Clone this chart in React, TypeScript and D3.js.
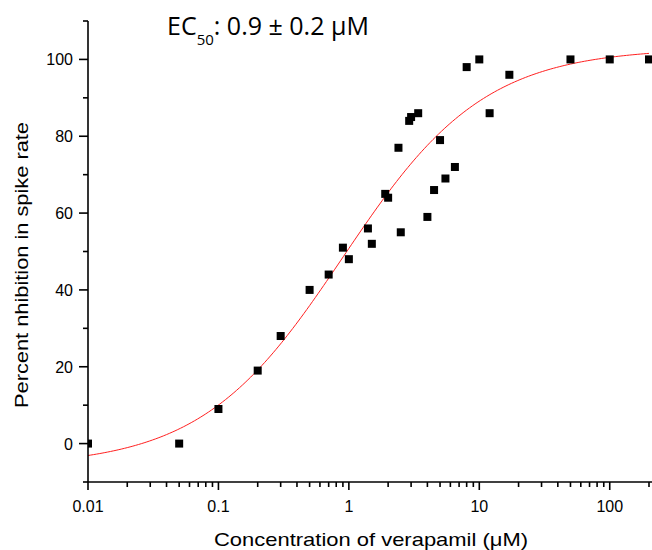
import * as d3 from 'd3';

// concentration (µM) and percent inhibition
const concentrations = [
  0.01, 0.05, 0.1, 0.2, 0.3, 0.5, 0.7, 0.9, 1.0, 1.4, 1.5, 1.9, 2.0, 2.4, 2.5,
  2.9, 3.0, 3.4, 4.0, 4.5, 5.0, 5.5, 6.5, 8, 10, 12, 17, 50, 100, 200,
];
const inhibition = [
  0, 0, 9, 19, 28, 40, 44, 51, 48, 56, 52, 65, 64, 77, 55,
  84, 85, 86, 59, 66, 79, 69, 72, 98, 100, 86, 96, 100, 100, 100,
];

// Hill fit (bottom, top, EC50, slope)
const fitBottom = -6;
const fitTop = 103;
const fitEC50 = 0.9;
const fitSlope = 0.8;

const xMajorTicks = [0.01, 0.1, 1, 10, 100];
const xTickLabels = ['0.01', '0.1', '1', '10', '100'];
const yMajorTicks = [0, 20, 40, 60, 80, 100];
const yMinorTicks = [-10, 10, 30, 50, 70, 90, 110];

const W = 652;
const H = 550;
const margin = { left: 88, top: 21, right: 3, bottom: 68 };

const App = () => {
  const x = d3.scaleLog().domain([0.01, 200]).range([margin.left, W - margin.right]);
  const y = d3.scaleLinear().domain([-10, 110]).range([H - margin.bottom, margin.top]);

  // minor log ticks 2..9 in each decade
  const xMinorTicks: number[] = [];
  for (let d = 0.01; d <= 100; d *= 10) {
    for (let k = 2; k <= 9; k++) {
      const v = +(d * k).toPrecision(3);
      if (v <= 200) xMinorTicks.push(v);
    }
  }

  const hill = (c: number) => fitBottom + (fitTop - fitBottom) / (1 + Math.pow(fitEC50 / c, fitSlope));
  const curveX = d3.range(0, 201).map(i => Math.pow(10, -2 + (i / 200) * Math.log10(20000)));
  const line = d3.line<number>().x(c => x(c)).y(c => y(hill(c)));

  const axisY = y(-10);
  const sq = 8;
  const font = '"Liberation Sans", Arial, sans-serif';

  return (
    <svg width={W} height={H} style={{ position: 'absolute', left: 0, top: 0, background: '#fff' }}>
      <defs>
        <clipPath id="plot">
          <rect x={margin.left} y={0} width={W - margin.left} height={axisY} />
        </clipPath>
      </defs>

      <g clipPath="url(#plot)">
        {/* fit curve */}
        <path d={line(curveX) || ''} fill="none" stroke="#ff2020" strokeWidth={1} />

        {/* data points */}
        {concentrations.map((c, i) => (
          <rect key={i} x={x(c) - sq / 2} y={y(inhibition[i]) - sq / 2} width={sq} height={sq} fill="#000" />
        ))}
      </g>

      {/* x axis */}
      <line x1={margin.left} x2={W} y1={axisY} y2={axisY} stroke="#000" strokeWidth={1.6} />
      {xMajorTicks.map((t, i) => (
        <g key={t}>
          <line x1={x(t)} x2={x(t)} y1={axisY} y2={axisY + 8} stroke="#000" strokeWidth={1.6} />
          <text x={x(t)} y={512} textAnchor="middle" fontSize={16} fontFamily={font}>{xTickLabels[i]}</text>
        </g>
      ))}
      {xMinorTicks.map(t => (
        <line key={t} x1={x(t)} x2={x(t)} y1={axisY} y2={axisY + 5} stroke="#000" strokeWidth={1.6} />
      ))}

      {/* y axis */}
      <line x1={margin.left} x2={margin.left} y1={y(110)} y2={axisY} stroke="#000" strokeWidth={1.6} />
      {yMajorTicks.map(t => (
        <g key={t}>
          <line x1={margin.left - 9} x2={margin.left} y1={y(t)} y2={y(t)} stroke="#000" strokeWidth={1.6} />
          <text x={margin.left - 15} y={y(t) + 6} textAnchor="end" fontSize={16} fontFamily={font}>{t}</text>
        </g>
      ))}
      {yMinorTicks.map(t => (
        <line key={t} x1={margin.left - 5} x2={margin.left} y1={y(t)} y2={y(t)} stroke="#000" strokeWidth={1.6} />
      ))}

      {/* axis titles */}
      <text x={371} y={546} textAnchor="middle" fontSize={19} fontFamily={font}
        textLength={314} lengthAdjust="spacingAndGlyphs">
        Concentration of verapamil (μM)
      </text>
      <text transform="translate(28,265) rotate(-90)" textAnchor="middle" fontSize={19} fontFamily={font}
        textLength={286} lengthAdjust="spacingAndGlyphs">
        Percent nhibition in spike rate
      </text>

      {/* EC50 annotation */}
      <text x={167} y={35} fontSize={25} fontFamily='"Open Sans", sans-serif'>
        EC<tspan fontSize={15} dy={10}>50</tspan><tspan dy={-10}>: 0.9 ± 0.2 μM</tspan>
      </text>
    </svg>
  );
};

export default App;
